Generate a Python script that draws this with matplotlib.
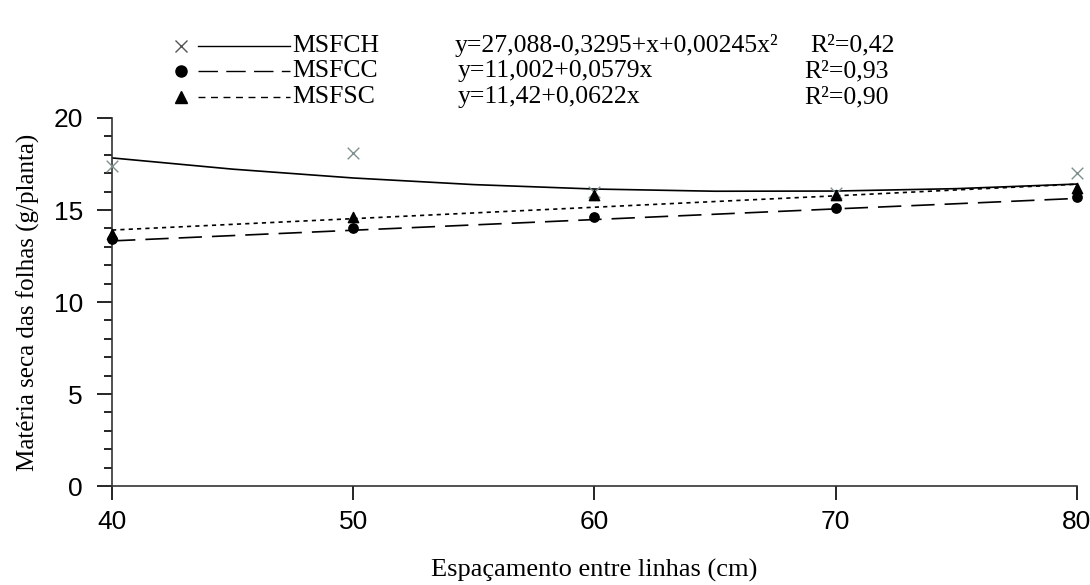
import matplotlib.pyplot as plt
from matplotlib.ticker import MultipleLocator
from matplotlib.lines import Line2D

# observed points
x_pts = [40, 50, 60, 70, 80]
msfch_pts = [17.4, 18.1, 16.0, 15.9, 17.0]
msfcc_pts = [13.4, 14.0, 14.6, 15.1, 15.7]
msfsc_pts = [13.7, 14.6, 15.8, 15.8, 16.2]

# fitted curves
x_fit = [40, 45, 50, 55, 60, 65, 70, 75, 80]
msfch_fit = [17.83, 17.22, 16.74, 16.38, 16.14, 16.02, 16.03, 16.16, 16.41]
msfcc_fit = [13.32, 13.61, 13.90, 14.19, 14.48, 14.77, 15.06, 15.34, 15.63]
msfsc_fit = [13.91, 14.22, 14.53, 14.84, 15.15, 15.46, 15.77, 16.09, 16.40]

labels = ["MSFCH", "MSFCC", "MSFSC"]
equations = ["y=27,088-0,3295+x+0,00245x²", "y=11,002+0,0579x", "y=11,42+0,0622x"]
r2 = ["R²=0,42", "R²=0,93", "R²=0,90"]

serif = "Liberation Serif"
sans = "Liberation Sans"

fig = plt.figure(figsize=(10.9, 5.85), dpi=100)
ax = fig.add_axes([0.1028, 0.1692, 0.885, 0.6291])

ax.plot(x_fit, msfch_fit, color="black", lw=1.2, ls="-")
ax.plot(x_fit, msfcc_fit, color="black", lw=1.2, ls=(0, (14, 6)))
ax.plot(x_fit, msfsc_fit, color="black", lw=1.2, ls=(0, (2.5, 2.5)))

ax.scatter(x_pts, msfch_pts, marker="x", color="#7f8f8f", s=70, lw=1.0, zorder=3, clip_on=False)
ax.scatter(x_pts, msfcc_pts, marker="o", color="black", s=45, zorder=3, clip_on=False)
ax.scatter(x_pts, msfsc_pts, marker="^", color="black", s=55, zorder=4, clip_on=False)

ax.set_xlim(40, 80)
ax.set_ylim(0, 20)
ax.xaxis.set_major_locator(MultipleLocator(10))
ax.yaxis.set_major_locator(MultipleLocator(5))
ax.yaxis.set_minor_locator(MultipleLocator(1))
ax.spines["top"].set_visible(False)
ax.spines["right"].set_visible(False)
for s in ["left", "bottom"]:
    ax.spines[s].set_linewidth(1.2)
    ax.spines[s].set_color("#333333")
ax.tick_params(axis="y", which="major", direction="out", length=11, width=1.2, pad=10)
ax.tick_params(axis="y", which="minor", direction="out", length=6, width=1.2)
ax.tick_params(axis="x", which="major", direction="out", length=10, width=1.2, pad=7)
for lab in ax.get_xticklabels() + ax.get_yticklabels():
    lab.set_fontfamily(sans)
    lab.set_fontsize(19)

ax.set_xlabel("Espaçamento entre linhas (cm)", fontfamily=serif, fontsize=19, labelpad=18)
ax.set_ylabel("Matéria seca das folhas (g/planta)", fontfamily=serif, fontsize=18, labelpad=10)

# legend block on top
rows_y = [0.922, 0.878, 0.834]
styles = [("x", "-", "#555555"), ("o", (0, (14, 6)), "black"), ("^", (0, (5, 4)), "black")]
for i, (m, ls, mc) in enumerate(styles):
    y = rows_y[i]
    fig.add_artist(Line2D([0.166], [y], marker=m, color=mc, ms=8 if m != "x" else 9,
                          mew=1.0, ls="none", transform=fig.transFigure))
    fig.add_artist(Line2D([0.182, 0.266], [y, y], color="black", lw=1.0, ls=ls,
                          transform=fig.transFigure))
    fig.text(0.268, y, labels[i], fontfamily=serif, fontsize=18.5, va="center")
    fig.text(0.417 if i == 0 else 0.42, y, equations[i], fontfamily=serif, fontsize=18.5, va="center")
    fig.text(0.743 if i == 0 else 0.738, y, r2[i], fontfamily=serif, fontsize=18.5, va="center")

fig.savefig("out.png", dpi=100)
